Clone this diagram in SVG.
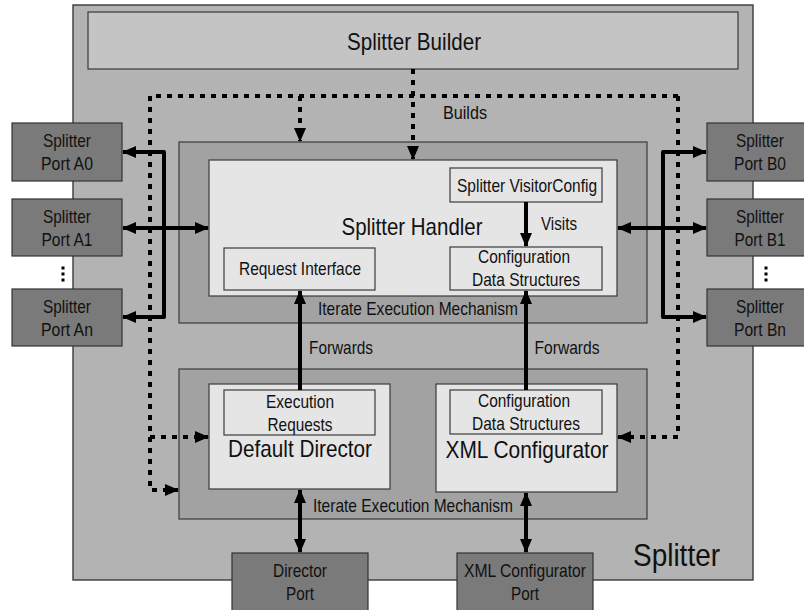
<svg xmlns="http://www.w3.org/2000/svg" width="804" height="610" viewBox="0 0 804 610">
  <defs>
    <style>
      text { font-family: "Liberation Sans", Arial, sans-serif; fill: #111; text-anchor: middle; }
      .big { font-size: 24px; }
      .sm { font-size: 19px; }
      .outer { fill: #b3b3b3; stroke: #3a3a3a; stroke-width: 1.4; }
      .builder { fill: #c4c4c4; stroke: #3a3a3a; stroke-width: 1.2; }
      .cont { fill: #a2a2a2; stroke: #3a3a3a; stroke-width: 1.2; }
      .inner { fill: #e5e5e5; stroke: #3a3a3a; stroke-width: 1.2; }
      .port { fill: #7a7a7a; stroke: #333; stroke-width: 1.2; }
      .solid { fill: none; stroke: #000; stroke-width: 4; stroke-linejoin: round; }
      .dash { fill: none; stroke: #000; stroke-width: 4; stroke-dasharray: 5 6; }
      .dot { fill: #000; }
    </style>
    <marker id="ah" markerUnits="userSpaceOnUse" viewBox="0 0 14 12" refX="13" refY="6" markerWidth="14" markerHeight="12" orient="auto-start-reverse">
      <path d="M0,0 L14,6 L0,12 z" fill="#000"/>
    </marker>
  </defs>

  <!-- Splitter container -->
  <g id="splitter">
    <rect class="outer" x="73" y="5" width="680" height="575"/>
    <text x="633" y="566" style="font-size:32px; text-anchor:start" textLength="87" lengthAdjust="spacingAndGlyphs">Splitter</text>
  </g>

  <g id="splitter-builder">
    <rect class="builder" x="88" y="12" width="650" height="57"/>
    <text class="big" x="414" y="50" textLength="134" lengthAdjust="spacingAndGlyphs">Splitter Builder</text>
  </g>

  <!-- Splitter Handler block -->
  <g id="handler-mechanism">
    <rect class="cont" x="179" y="142" width="468" height="181"/>
    <text class="sm" x="418" y="315" textLength="200" lengthAdjust="spacingAndGlyphs">Iterate Execution Mechanism</text>
  </g>
  <g id="splitter-handler">
    <rect class="inner" x="209" y="160" width="408" height="136"/>
    <text class="big" x="412" y="235" textLength="141" lengthAdjust="spacingAndGlyphs">Splitter Handler</text>
  </g>
  <g id="visitor-config">
    <rect class="inner" x="450" y="168" width="152" height="34"/>
    <text class="sm" x="527" y="192" textLength="140" lengthAdjust="spacingAndGlyphs">Splitter VisitorConfig</text>
  </g>
  <g id="handler-config-data">
    <rect class="inner" x="450" y="247" width="152" height="43"/>
    <text class="sm" x="524" y="263" textLength="92" lengthAdjust="spacingAndGlyphs">Configuration</text>
    <text class="sm" x="526" y="286" textLength="108" lengthAdjust="spacingAndGlyphs">Data Structures</text>
  </g>
  <g id="request-interface">
    <rect class="inner" x="224" y="248" width="151" height="42"/>
    <text class="sm" x="300" y="275" textLength="122" lengthAdjust="spacingAndGlyphs">Request Interface</text>
  </g>

  <!-- Lower block -->
  <g id="lower-mechanism">
    <rect class="cont" x="179" y="369" width="468" height="150"/>
    <text class="sm" x="413" y="512" textLength="200" lengthAdjust="spacingAndGlyphs">Iterate Execution Mechanism</text>
  </g>
  <g id="default-director">
    <rect class="inner" x="209" y="384" width="181" height="105"/>
    <text class="big" x="300" y="457" textLength="144" lengthAdjust="spacingAndGlyphs">Default Director</text>
  </g>
  <g id="execution-requests">
    <rect class="inner" x="224" y="390" width="151" height="45"/>
    <text class="sm" x="300" y="408" textLength="68" lengthAdjust="spacingAndGlyphs">Execution</text>
    <text class="sm" x="300" y="431" textLength="65" lengthAdjust="spacingAndGlyphs">Requests</text>
  </g>
  <g id="xml-configurator">
    <rect class="inner" x="436" y="384" width="181" height="108"/>
    <text class="big" x="527" y="458" textLength="163" lengthAdjust="spacingAndGlyphs">XML Configurator</text>
  </g>
  <g id="xml-config-data">
    <rect class="inner" x="450" y="390" width="152" height="44"/>
    <text class="sm" x="524" y="407" textLength="92" lengthAdjust="spacingAndGlyphs">Configuration</text>
    <text class="sm" x="526" y="430" textLength="108" lengthAdjust="spacingAndGlyphs">Data Structures</text>
  </g>

  <!-- Ports -->
  <g id="port-a0">
    <rect class="port" x="12" y="123" width="110" height="58"/>
    <text class="sm" x="67" y="147" textLength="48" lengthAdjust="spacingAndGlyphs">Splitter</text>
    <text class="sm" x="67" y="170" textLength="52" lengthAdjust="spacingAndGlyphs">Port A0</text>
  </g>
  <g id="port-a1">
    <rect class="port" x="12" y="199" width="110" height="57"/>
    <text class="sm" x="67" y="223" textLength="48" lengthAdjust="spacingAndGlyphs">Splitter</text>
    <text class="sm" x="67" y="246" textLength="51" lengthAdjust="spacingAndGlyphs">Port A1</text>
  </g>
  <g id="port-an">
    <rect class="port" x="12" y="289" width="110" height="57"/>
    <text class="sm" x="67" y="313" textLength="48" lengthAdjust="spacingAndGlyphs">Splitter</text>
    <text class="sm" x="67" y="336" textLength="52" lengthAdjust="spacingAndGlyphs">Port An</text>
  </g>
  <g id="port-b0">
    <rect class="port" x="707" y="123" width="110" height="58"/>
    <text class="sm" x="760" y="147" textLength="48" lengthAdjust="spacingAndGlyphs">Splitter</text>
    <text class="sm" x="760" y="170" textLength="52" lengthAdjust="spacingAndGlyphs">Port B0</text>
  </g>
  <g id="port-b1">
    <rect class="port" x="707" y="199" width="110" height="57"/>
    <text class="sm" x="760" y="223" textLength="48" lengthAdjust="spacingAndGlyphs">Splitter</text>
    <text class="sm" x="760" y="246" textLength="51" lengthAdjust="spacingAndGlyphs">Port B1</text>
  </g>
  <g id="port-bn">
    <rect class="port" x="707" y="289" width="110" height="57"/>
    <text class="sm" x="760" y="313" textLength="48" lengthAdjust="spacingAndGlyphs">Splitter</text>
    <text class="sm" x="760" y="336" textLength="52" lengthAdjust="spacingAndGlyphs">Port Bn</text>
  </g>
  <g id="director-port">
    <rect class="port" x="232" y="553" width="136" height="62"/>
    <text class="sm" x="300" y="577" textLength="54" lengthAdjust="spacingAndGlyphs">Director</text>
    <text class="sm" x="300" y="600" textLength="28" lengthAdjust="spacingAndGlyphs">Port</text>
  </g>
  <g id="xml-configurator-port">
    <rect class="port" x="457" y="553" width="136" height="62"/>
    <text class="sm" x="525" y="577" textLength="122" lengthAdjust="spacingAndGlyphs">XML Configurator</text>
    <text class="sm" x="525" y="600" textLength="28" lengthAdjust="spacingAndGlyphs">Port</text>
  </g>

  <!-- Ellipsis marks between ports -->
  <g id="ellipsis">
    <rect class="dot" x="61.5" y="266.5" width="3" height="3"/>
    <rect class="dot" x="61.5" y="272.5" width="3" height="3"/>
    <rect class="dot" x="61.5" y="278.5" width="3" height="3"/>
    <rect class="dot" x="764.5" y="266.5" width="3" height="3"/>
    <rect class="dot" x="764.5" y="272.5" width="3" height="3"/>
    <rect class="dot" x="764.5" y="278.5" width="3" height="3"/>
  </g>

  <!-- Connectors -->
  <g id="connectors">
    <!-- builds (dotted) -->
    <path class="dash" d="M413,69 L413,159" marker-end="url(#ah)"/>
    <path class="dash" d="M678,96 L150,96 L150,490 L178,490" marker-end="url(#ah)"/>
    <path class="dash" d="M300,96 L300,141" marker-end="url(#ah)"/>
    <path class="dash" d="M150,437 L208,437" marker-end="url(#ah)"/>
    <path class="dash" d="M678,96 L678,437 L618,437" marker-end="url(#ah)"/>

    <!-- port buses -->
    <path class="solid" d="M123,152 L164,152 L164,317 L123,317" marker-start="url(#ah)" marker-end="url(#ah)"/>
    <path class="solid" d="M123,228 L208,228" marker-start="url(#ah)" marker-end="url(#ah)"/>
    <path class="solid" d="M706,152 L663,152 L663,317 L706,317" marker-start="url(#ah)" marker-end="url(#ah)"/>
    <path class="solid" d="M618,228 L706,228" marker-start="url(#ah)" marker-end="url(#ah)"/>

    <!-- visits / forwards -->
    <path class="solid" d="M526,202 L526,246" marker-end="url(#ah)"/>
    <path class="solid" d="M300,390 L300,291" marker-end="url(#ah)"/>
    <path class="solid" d="M526,390 L526,291" marker-end="url(#ah)"/>

    <!-- external ports -->
    <path class="solid" d="M300,490 L300,552" marker-start="url(#ah)" marker-end="url(#ah)"/>
    <path class="solid" d="M526,493 L526,552" marker-start="url(#ah)" marker-end="url(#ah)"/>

    <!-- connector labels -->
    <text class="sm" x="465" y="119" textLength="44" lengthAdjust="spacingAndGlyphs">Builds</text>
    <text class="sm" x="559" y="230" textLength="36" lengthAdjust="spacingAndGlyphs">Visits</text>
    <text class="sm" x="341" y="354" textLength="64" lengthAdjust="spacingAndGlyphs">Forwards</text>
    <text class="sm" x="567" y="354" textLength="65" lengthAdjust="spacingAndGlyphs">Forwards</text>
  </g>
</svg>
